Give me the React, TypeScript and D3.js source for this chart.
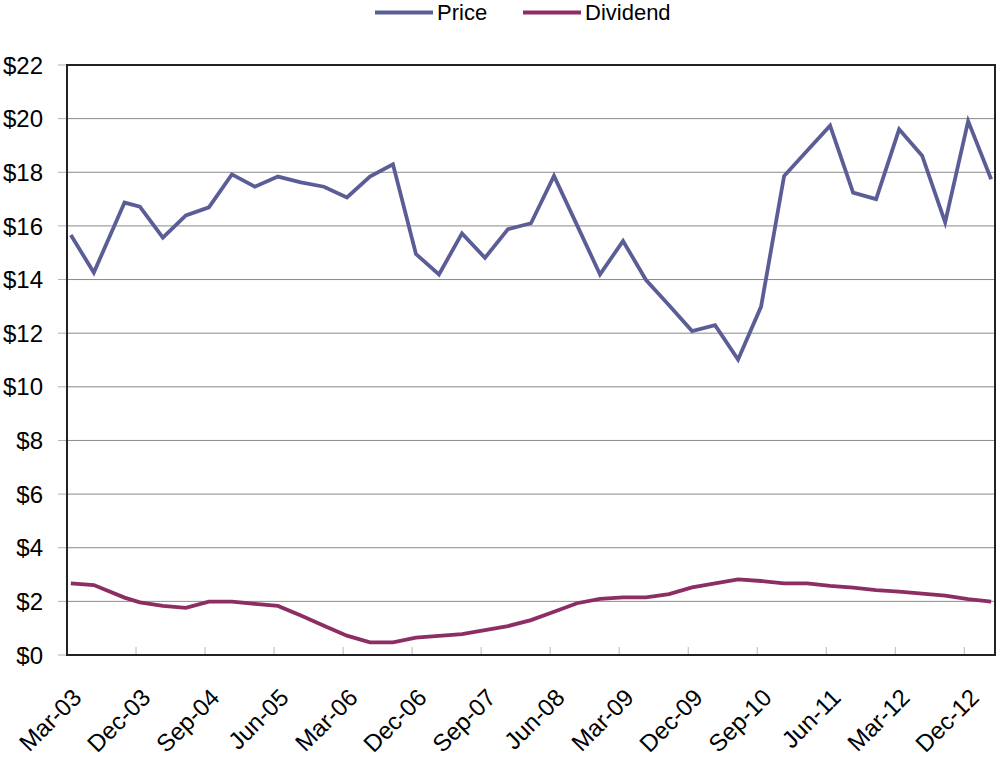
import React from 'react';
import * as d3 from 'd3';

// quarter-end months (one Oct entry in 2003)
const dates = [
  '2003-03', '2003-06', '2003-10', '2003-12',
  '2004-03', '2004-06', '2004-09', '2004-12',
  '2005-03', '2005-06', '2005-09', '2005-12',
  '2006-03', '2006-06', '2006-09', '2006-12',
  '2007-03', '2007-06', '2007-09', '2007-12',
  '2008-03', '2008-06', '2008-09', '2008-12',
  '2009-03', '2009-06', '2009-09', '2009-12',
  '2010-03', '2010-06', '2010-09', '2010-12',
  '2011-03', '2011-06', '2011-09', '2011-12',
  '2012-03', '2012-06', '2012-09', '2012-12',
  '2013-03',
];

const price = [
  15.66, 14.26, 16.87, 16.72,
  15.56, 16.39, 16.69, 17.92,
  17.46, 17.84, 17.62, 17.46,
  17.06, 17.84, 18.3, 14.95,
  14.19, 15.72, 14.81, 15.88,
  16.1, 17.86, 16.03, 14.19,
  15.44, 13.98, 13.04, 12.08,
  12.3, 11.02, 12.99, 17.86,
  18.8, 19.74, 17.24, 17.0,
  19.6, 18.62, 16.13, 19.91,
  17.74,
];

const dividend = [
  2.67, 2.61, 2.14, 1.96,
  1.83, 1.76, 1.99, 1.99,
  1.91, 1.83, 1.47, 1.09,
  0.72, 0.47, 0.47, 0.65,
  0.71, 0.78, 0.93, 1.08,
  1.3, 1.61, 1.93, 2.09,
  2.15, 2.15, 2.27, 2.52,
  2.67, 2.82, 2.76, 2.67,
  2.67, 2.58, 2.51, 2.42,
  2.36, 2.29, 2.21, 2.08,
  1.99,
];

const yTicks = [0, 2, 4, 6, 8, 10, 12, 14, 16, 18, 20, 22];

const series = [
  { name: 'Price', values: price, color: '#5b5e96' },
  { name: 'Dividend', values: dividend, color: '#8c2d64' },
];

const W = 1000;
const H = 758;
const left = 67;
const right = 995;
const top = 65;
const bottom = 655;
const FONT = "'Liberation Sans', Arial, sans-serif";

const parse = d3.timeParse('%Y-%m');
const start = parse(dates[0]) as Date;
const monthsTotal = d3.timeMonth.count(start, parse(dates[dates.length - 1]) as Date) + 1;
const monthIdx = dates.map((d) => d3.timeMonth.count(start, parse(d) as Date));

// one slot per month, points sit in the middle of their slot
const x = d3.scaleLinear().domain([0, monthsTotal]).range([left, right]);
const y = d3.scaleLinear().domain([0, 22]).range([bottom, top]);

const tickMonths = d3.range(0, monthsTotal, 9);
const fmt = d3.timeFormat('%b-%y');

const line = d3
  .line<number>()
  .x((_, i) => x(monthIdx[i] + 0.5))
  .y((v) => y(v));

export default function App() {
  return (
    <svg
      width={W}
      height={H}
      style={{ position: 'absolute', left: 0, top: 0, background: '#fff' }}
      fontFamily={FONT}
    >
      {/* legend */}
      {series.map((s, i) => {
        const lx = i === 0 ? 375 : 523;
        return (
          <g key={s.name}>
            <line x1={lx} x2={lx + 58} y1={12.5} y2={12.5} stroke={s.color} strokeWidth={4} />
            <text x={lx + 62} y={20} fontSize={22} fill="#000">
              {s.name}
            </text>
          </g>
        );
      })}

      {/* gridlines + y labels */}
      {yTicks.map((t) => (
        <g key={t}>
          {t > 0 && t < 22 && (
            <line x1={left} x2={right} y1={y(t)} y2={y(t)} stroke="#8a8a8a" strokeWidth={1} />
          )}
          <line x1={left - 9} x2={left} y1={y(t)} y2={y(t)} stroke="#b0b0b0" strokeWidth={1} />
          <text x={43} y={y(t)} dy="0.36em" textAnchor="end" fontSize={24} fill="#000">
            {'$' + t}
          </text>
        </g>
      ))}

      {/* x ticks point up into the plot */}
      {tickMonths.map((m) => (
        <g key={m}>
          <line x1={x(m)} x2={x(m)} y1={bottom} y2={bottom - 8} stroke="#b8b8b8" strokeWidth={1} />
          <text
            transform={`translate(${x(m) + 16},${699}) rotate(-45)`}
            textAnchor="end"
            fontSize={24}
            fill="#000"
          >
            {fmt(d3.timeMonth.offset(start, m))}
          </text>
        </g>
      ))}

      {/* plot frame */}
      <rect
        x={left}
        y={top}
        width={right - left}
        height={bottom - top}
        fill="none"
        stroke="#222"
        strokeWidth={2}
      />

      {series.map((s) => (
        <path
          key={s.name}
          d={line(s.values) || ''}
          fill="none"
          stroke={s.color}
          strokeWidth={3.8}
          strokeLinejoin="miter"
        />
      ))}
    </svg>
  );
}
